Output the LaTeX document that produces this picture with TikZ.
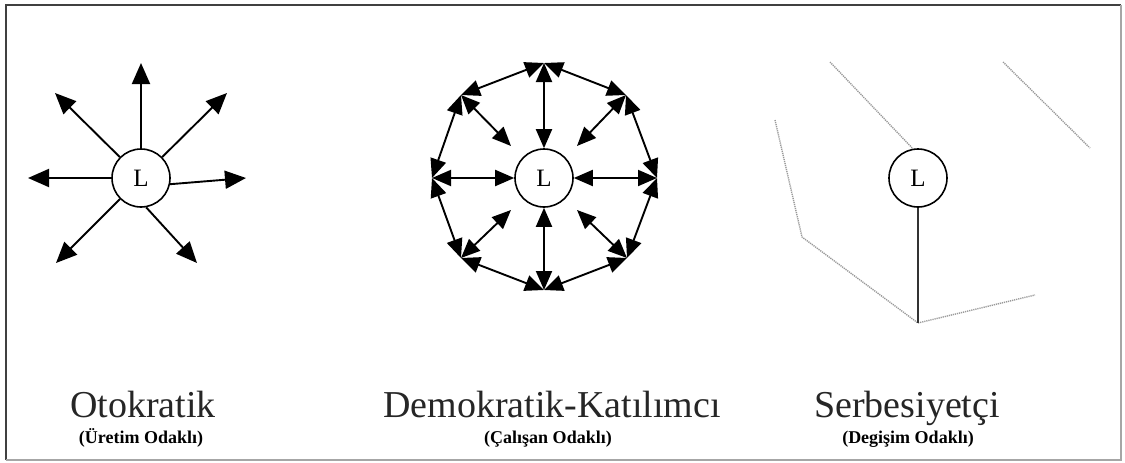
\documentclass[tikz,border=0pt]{standalone}
\usepackage{fontspec}
\setmainfont{Liberation Serif}
\usetikzlibrary{arrows.meta}
\tikzset{
  leader/.style={circle, draw, line width=1.6pt, minimum size=58pt, inner sep=0pt, fill=white, font=\fontsize{25}{27}\selectfont},
  arr/.style={line width=1.9pt, -{Triangle[length=21pt,width=18pt]}},
  darr/.style={line width=1.9pt, {Triangle[length=19pt,width=16pt]}-{Triangle[length=19pt,width=16pt]}},
  dotline/.style={black!40, line width=1.4pt, dash pattern=on 1.2pt off 0.9pt},
  titletext/.style={font=\fontsize{38}{40}\selectfont, anchor=base, text=black!85, inner sep=0pt},
  subtext/.style={font=\bfseries\fontsize{18}{20}\selectfont, anchor=base, inner sep=0pt},
}
\begin{document}
\begin{tikzpicture}[x=1pt,y=-1pt]
\useasboundingbox (0,0) rectangle (1125,463);
\fill[white] (0,0) rectangle (1125,463);
% frame
\draw[black!75, line width=2pt] (6,460) -- (6,5) -- (1121,5);
\draw[black!35, line width=1.5pt] (6,460) -- (1121,460) -- (1121,5);

% ---------- Otokratik ----------
\node[leader] (L1) at (141,178) {L};
\coordinate (a1) at (141,63);
\coordinate (a2) at (55,93);
\coordinate (a3) at (227,93);
\coordinate (a4) at (28,178);
\coordinate (a5) at (246,178);
\coordinate (a6) at (56,263);
\coordinate (a7) at (197,263);
\draw[arr] (L1) -- (a1);
\draw[arr] (L1) -- (a2);
\draw[arr] (L1) -- (a3);
\draw[arr] (L1) -- (a4);
\draw[arr] (L1.-12) -- (a5);
\draw[arr] (L1) -- (a6);
\draw[arr] (L1.-80) -- (a7);

% ---------- Demokratik ----------
\node[leader] (L2) at (544,178) {L};
\coordinate (v1) at (544,63);
\coordinate (v2) at (626,95);
\coordinate (v3) at (657,178);
\coordinate (v4) at (627,258);
\coordinate (v5) at (544,290);
\coordinate (v6) at (461,258);
\coordinate (v7) at (432,178);
\coordinate (v8) at (461,95);
\coordinate (i2) at (577,146);
\coordinate (i4) at (577,210);
\coordinate (i6) at (511,210);
\coordinate (i8) at (511,146);
% spokes
\draw[darr] (v1) -- (L2);
\draw[darr] (v2) -- (i2);
\draw[darr] (v3) -- (L2);
\draw[darr] (v4) -- (i4);
\draw[darr] (v5) -- (L2);
\draw[darr] (v6) -- (i6);
\draw[darr] (v7) -- (L2);
\draw[darr] (v8) -- (i8);
% ring
\draw[darr] (v1) -- (v2);
\draw[darr] (v2) -- (v3);
\draw[darr] (v3) -- (v4);
\draw[darr] (v4) -- (v5);
\draw[darr] (v5) -- (v6);
\draw[darr] (v6) -- (v7);
\draw[darr] (v7) -- (v8);
\draw[darr] (v8) -- (v1);

% ---------- Serbesiyetci ----------
\node[leader] (L3) at (918,178) {L};
\coordinate (s0) at (918,323);
\coordinate (p1) at (775,120);
\coordinate (p2) at (802,237);
\coordinate (p3) at (1035,295);
\coordinate (q1) at (830,62);
\coordinate (r1) at (1003,62);
\coordinate (r2) at (1090,148);
\draw[dotline] (p1) -- (p2) -- (s0) -- (p3);
\draw[dotline] (q1) -- (L3.100);
\draw[dotline] (r1) -- (r2);
\draw[line width=2pt, black!80] (L3) -- (s0);

% ---------- labels ----------
\node[titletext] (t1) at (143,417) {Otokratik};
\node[subtext] (u1) at (141,443) {(Üretim Odaklı)};
\node[titletext] (t2) at (552,417) {Demokratik-Katılımcı};
\node[subtext] (u2) at (548,443) {(Çalışan Odaklı)};
\node[titletext] (t3) at (907,417) {Serbesiyetçi};
\node[subtext] (u3) at (908,443) {(Degişim Odaklı)};
\end{tikzpicture}
\end{document}
